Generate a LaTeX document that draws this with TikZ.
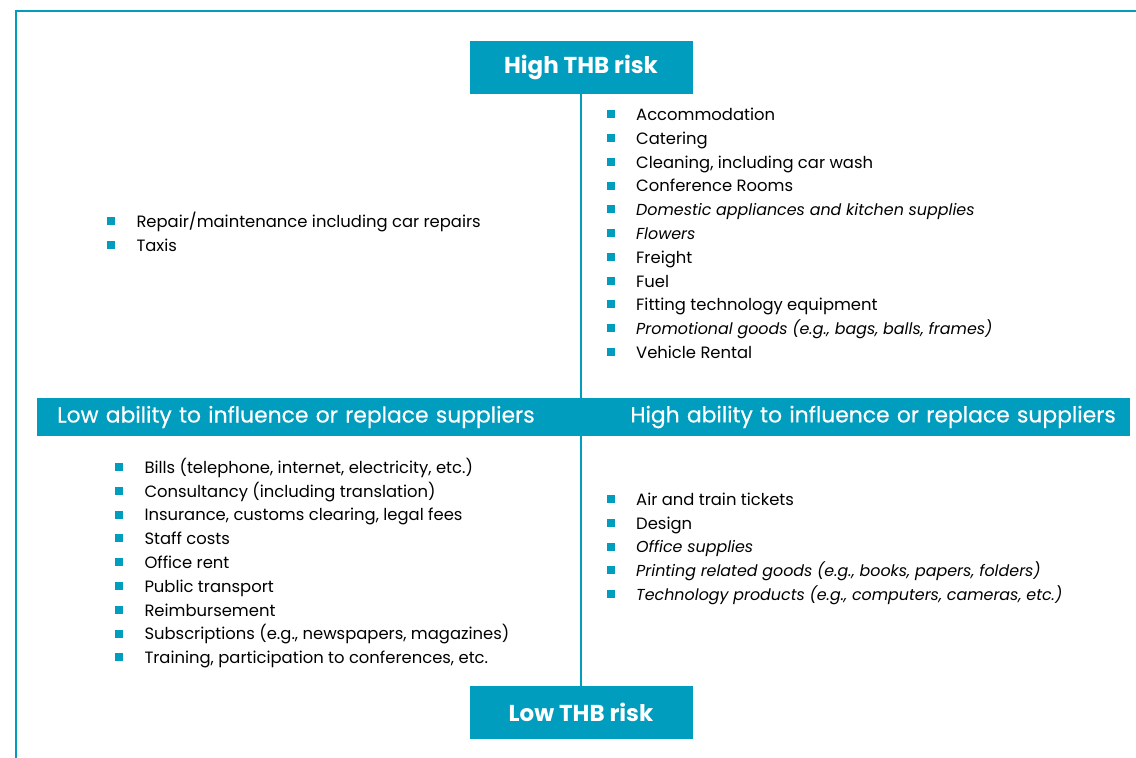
\documentclass[tikz,border=0pt]{standalone}
\usepackage{fontspec}
\setmainfont{Poppins}
\newfontfamily\barfont[FakeBold=0.5]{Poppins}
\definecolor{thbblue}{RGB}{0,157,190}
\newcommand{\bul}{\textcolor{thbblue}{\rule[2.3pt]{8pt}{8pt}}\hspace{21.3pt}}
\newcommand{\itl}[1]{{\fontsize{15.9}{20}\selectfont\textit{#1}}}

\begin{document}
\begin{tikzpicture}[x=1pt,y=-1pt,
	riskbox/.style={fill=thbblue,text=white,font=\fontsize{23}{27}\selectfont\bfseries,minimum width=223pt,minimum height=53pt,inner sep=0pt},
	bar/.style={fill=thbblue,text=white,font=\fontsize{21.85}{25}\barfont,minimum height=38pt,inner sep=0pt},
	item/.style={anchor=base west,inner sep=0pt,font=\fontsize{16.4}{20}\selectfont}]
	\useasboundingbox (0,0) rectangle (1136,758);
	\draw[thbblue,line width=2pt] (16,758) |- (1136,11);
	\node[riskbox] (high) at (581,67.5) {High THB risk};
	\node[riskbox] (low) at (581,712.5) {Low THB risk};
	\draw[thbblue,line width=1.6pt] (high) -- (low);
	\node[bar,anchor=west,minimum width=543pt,text width=503pt,align=left] (lowabl) at (37,417) {Low ability to influence or replace suppliers};
	\node[bar,anchor=east,minimum width=550pt,text width=522pt,align=right] (highabl) at (1130,417) {High ability to influence or replace suppliers};
	\foreach \txt [count=\i] in {Repair/maintenance including car repairs, Taxis}
		\node[item] (hl\i) at (107,203.7+23.8*\i) {\bul\txt};
	\foreach \txt [count=\i] in {Accommodation, Catering, {Cleaning, including car wash}, Conference Rooms,
		\itl{Domestic appliances and kitchen supplies}, \itl{Flowers}, Freight, Fuel,
		Fitting technology equipment, {\itl{Promotional goods (e.g., bags, balls, frames)}}, Vehicle Rental}
		\node[item] (hr\i) at (606.7,96.94+23.76*\i) {\bul\txt};
	\foreach \txt [count=\i] in {{Bills (telephone, internet, electricity, etc.)}, Consultancy (including translation),
		{Insurance, customs clearing, legal fees}, Staff costs, Office rent, Public transport, Reimbursement,
		{Subscriptions (e.g., newspapers, magazines)}, {Training, participation to conferences, etc.}}
		\node[item] (ll\i) at (115,449.5+23.8*\i) {\bul\txt};
	\foreach \txt [count=\i] in {Air and train tickets, Design, \itl{Office supplies},
		{\itl{Printing related goods (e.g., books, papers, folders)}}, {\itl{Technology products (e.g., computers, cameras, etc.)}}}
		\node[item] (lr\i) at (606.7,481.7+23.76*\i) {\bul\txt};
\end{tikzpicture}
\end{document}
